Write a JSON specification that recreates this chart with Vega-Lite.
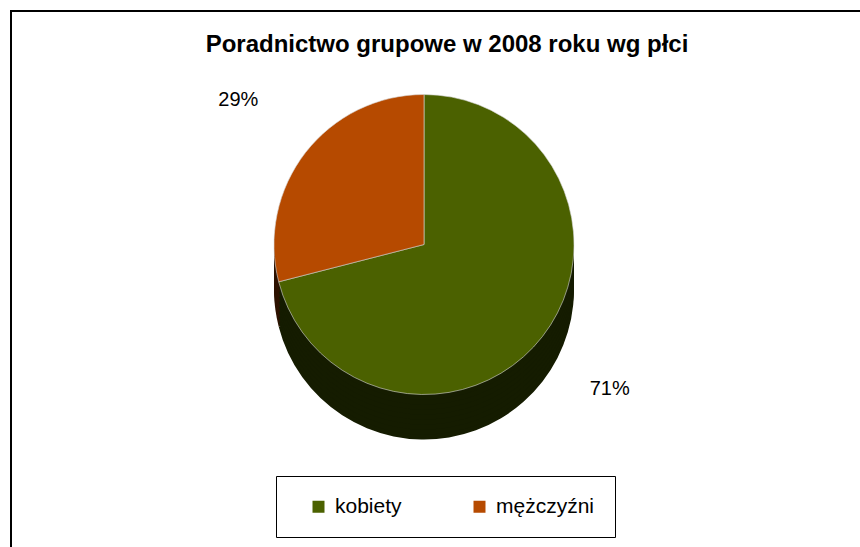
{
  "$schema": "https://vega.github.io/schema/vega-lite/v6.json",
  "width": 860,
  "height": 547,
  "autosize": {"type": "fit", "contains": "padding"},
  "padding": {"left": 10, "top": 10, "right": -2, "bottom": -2},
  "background": "white",
  "config": {
    "view": {"stroke": null},
    "font": "Liberation Sans"
  },
  "title": {
    "text": "Poradnictwo grupowe w 2008 roku wg płci",
    "font": "Liberation Sans",
    "fontSize": 24,
    "fontWeight": "bold",
    "color": "black",
    "anchor": "middle",
    "dx": 11,
    "offset": -47
  },
  "data": {"values": [
    {"plec": "kobiety", "udzial": 0.71},
    {"plec": "mężczyźni", "udzial": 0.29}
  ]},
  "encoding": {
    "theta": {"field": "udzial", "type": "quantitative", "stack": true},
    "order": {"field": "plec", "type": "nominal", "sort": "ascending"}
  },
  "layer": [
    {"data": {"values": [{"ramka": "obszar wykresu"}]},
     "mark": {"type": "rect", "fill": null, "stroke": "black", "strokeWidth": 2},
     "encoding": {"theta": null, "order": null}},
    {"mark": {"type": "arc", "radius": 150, "xOffset": -12, "yOffset": 10},
     "encoding": {"fill": {"condition": {"test": "datum.plec === 'kobiety'", "value": "#151c00"}, "value": "#2e1300"}}},
    {"mark": {"type": "arc", "radius": 150, "xOffset": -12, "yOffset": 5},
     "encoding": {"fill": {"condition": {"test": "datum.plec === 'kobiety'", "value": "#151c00"}, "value": "#2e1300"}}},
    {"mark": {"type": "arc", "radius": 150, "xOffset": -12, "yOffset": 0},
     "encoding": {"fill": {"condition": {"test": "datum.plec === 'kobiety'", "value": "#151c00"}, "value": "#2e1300"}}},
    {"mark": {"type": "arc", "radius": 150, "xOffset": -12, "yOffset": -5},
     "encoding": {"fill": {"condition": {"test": "datum.plec === 'kobiety'", "value": "#151c00"}, "value": "#2e1300"}}},
    {"mark": {"type": "arc", "radius": 150, "xOffset": -12, "yOffset": -10},
     "encoding": {"fill": {"condition": {"test": "datum.plec === 'kobiety'", "value": "#151c00"}, "value": "#2e1300"}}},
    {"mark": {"type": "arc", "radius": 150, "xOffset": -12, "yOffset": -15},
     "encoding": {"fill": {"condition": {"test": "datum.plec === 'kobiety'", "value": "#151c00"}, "value": "#2e1300"}}},
    {"mark": {"type": "arc", "radius": 150, "xOffset": -12, "yOffset": -20},
     "encoding": {"fill": {"condition": {"test": "datum.plec === 'kobiety'", "value": "#151c00"}, "value": "#2e1300"}}},
    {"mark": {"type": "arc", "radius": 150, "xOffset": -12, "yOffset": -25},
     "encoding": {"fill": {"condition": {"test": "datum.plec === 'kobiety'", "value": "#151c00"}, "value": "#2e1300"}}},
    {"mark": {"type": "arc", "radius": 150, "xOffset": -12, "yOffset": -30},
     "encoding": {"fill": {"condition": {"test": "datum.plec === 'kobiety'", "value": "#151c00"}, "value": "#2e1300"}}},
    {"mark": {"type": "arc", "radius": 150, "xOffset": -12, "yOffset": -35, "stroke": "#d8d8d8", "strokeWidth": 0.6},
     "encoding": {
       "color": {
         "field": "plec", "type": "nominal",
         "scale": {"domain": ["kobiety", "mężczyźni"], "range": ["#4b6100", "#b64a00"]},
         "legend": {
           "title": null,
           "orient": "none",
           "legendX": 265,
           "legendY": 465,
           "direction": "horizontal",
           "symbolType": "square",
           "symbolSize": 144,
           "symbolStrokeWidth": 0,
           "symbolOffset": 12,
           "labelFont": "Liberation Sans",
           "labelFontSize": 21,
           "labelColor": "black",
           "labelOffset": 6,
           "columnPadding": 55,
           "padding": 20,
           "strokeColor": "black",
           "fillColor": "white"
         }
       }
     }},
    {"mark": {"type": "text", "radius": 235, "xOffset": -12, "yOffset": -35, "fontSize": 20, "font": "Liberation Sans", "color": "black"},
     "encoding": {
       "detail": {"field": "plec", "type": "nominal"},
       "text": {"field": "udzial", "type": "quantitative", "format": ".0%"}
     }}
  ]
}
